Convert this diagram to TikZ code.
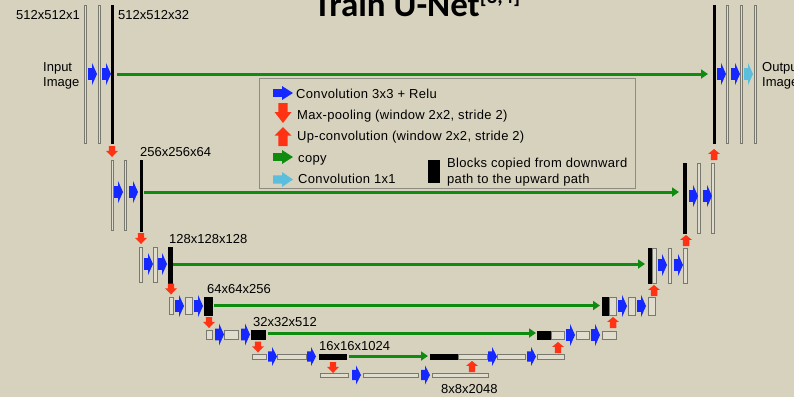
\documentclass[tikz,border=0pt]{standalone}
\usepackage{fontspec}
\setmainfont{Liberation Sans}
\newfontfamily\titlefont{Carlito}
\newfontfamily\legfont[LetterSpace=2.5]{Liberation Sans}
\usetikzlibrary{arrows.meta,calc}
\definecolor{bg}{RGB}{215,210,190}
\definecolor{blkfill}{RGB}{224,221,206}
\definecolor{blkdraw}{RGB}{120,120,110}
\definecolor{convblue}{RGB}{20,40,255}
\definecolor{poolred}{RGB}{255,50,20}
\definecolor{copygreen}{RGB}{15,140,15}
\definecolor{convcyan}{RGB}{90,190,220}
\definecolor{legdraw}{RGB}{140,140,130}
\newcommand\blk[6]{\node[#2, anchor=north west, minimum width={(#5-#3)*1pt}, minimum height={(#6-#4)*1pt}] (#1) at (#3,#4) {};}
\tikzset{
  gblk/.style={draw=blkdraw, fill=blkfill, line width=0.8pt, inner sep=0pt, outer sep=0pt},
  kblk/.style={draw=black, fill=black, line width=0.5pt, inner sep=0pt, outer sep=0pt},
  lbl/.style={anchor=base west, inner sep=0pt, font=\fontsize{13}{13}\selectfont},
  leg/.style={anchor=base west, inner sep=0pt, font=\legfont\fontsize{13}{13}\selectfont},
  copyarr/.style={draw=copygreen, line width=3pt, -{Triangle[length=7pt,width=9pt]}},
  rarr/.pic={\fill[#1] (0,-0.27) -- (0.45,-0.27) -- (0.45,-0.5) -- (1,0) -- (0.45,0.5) -- (0.45,0.27) -- (0,0.27) -- cycle;},
  darr/.pic={\fill[#1] (-0.27,0) -- (0.27,0) -- (0.27,0.45) -- (0.5,0.45) -- (0,1) -- (-0.5,0.45) -- (-0.27,0.45) -- cycle;},
  uarr/.pic={\fill[#1] (-0.27,0) -- (0.27,0) -- (0.27,-0.55) -- (0.5,-0.55) -- (0,-1) -- (-0.5,-0.55) -- (-0.27,-0.55) -- cycle;},
  conv/.style={xscale=9, yscale=22},
  convs/.style={xscale=9, yscale=19},
  pool/.style={xscale=12, yscale=11},
}
\begin{document}
\begin{tikzpicture}[x=1pt, y=-1pt]
\fill[bg] (0,0) rectangle (794,397);
\useasboundingbox (0,0) rectangle (794,397);

% title (cropped at the top)
\node[anchor=base, inner sep=0pt, font=\titlefont\bfseries\fontsize{35}{35}\selectfont] (title) at (417,16)
  {Train U-Net\raisebox{13pt}{\fontsize{21}{21}\selectfont[3,4]}};

% ---------- downward path ----------
\blk{d1a}{gblk}{84}{5}{86}{143}
\blk{d1b}{gblk}{98}{5}{100}{143}
\blk{d1k}{kblk}{111}{5}{113}{143}
\blk{d2a}{gblk}{111}{160}{113}{230}
\blk{d2b}{gblk}{124}{160}{126}{230}
\blk{d2k}{kblk}{140}{160}{142}{231}
\blk{d3a}{gblk}{139}{247}{142}{282}
\blk{d3b}{gblk}{153}{247}{157}{282}
\blk{d3k}{kblk}{168}{247}{172}{283}
\blk{d4a}{gblk}{169}{297}{173}{314}
\blk{d4b}{gblk}{185}{297}{192}{314}
\blk{d4k}{kblk}{204}{297}{212}{315}
\blk{d5a}{gblk}{206}{330}{212}{339}
\blk{d5b}{gblk}{224}{330}{238}{339}
\blk{d5k}{kblk}{251}{330}{265}{339}
\blk{d6a}{gblk}{252}{354}{266}{359}
\blk{d6b}{gblk}{277}{354}{306}{359}
\blk{d6k}{kblk}{319}{354}{346}{359}
\blk{b7a}{gblk}{320}{373}{348}{377}
\blk{b7b}{gblk}{363}{373}{418}{377}
\blk{b7c}{gblk}{432}{373}{488}{377}

% ---------- upward path ----------
\blk{u6k}{kblk}{430}{354}{458}{359}
\blk{u6g}{gblk}{458}{354}{487}{359}
\blk{u6b}{gblk}{497}{354}{525}{359}
\blk{u6c}{gblk}{537}{354}{564}{359}
\blk{u5k}{kblk}{537}{331}{551}{339}
\blk{u5g}{gblk}{551}{331}{564}{339}
\blk{u5b}{gblk}{576}{331}{589}{339}
\blk{u5c}{gblk}{602}{331}{616}{339}
\blk{u4k}{kblk}{602}{297}{609}{315}
\blk{u4g}{gblk}{609}{297}{616}{315}
\blk{u4b}{gblk}{628}{297}{635}{315}
\blk{u4c}{gblk}{648}{297}{655}{315}
\blk{u3k}{kblk}{648}{248}{652}{283}
\blk{u3g}{gblk}{652}{248}{656}{283}
\blk{u3b}{gblk}{668}{248}{671}{283}
\blk{u3c}{gblk}{683}{248}{687}{283}
\blk{u2k}{kblk}{683}{163}{686}{233}
\blk{u2b}{gblk}{697}{163}{700}{233}
\blk{u2c}{gblk}{711}{163}{714}{233}
\blk{u1k}{kblk}{713}{5}{715}{143}
\blk{u1b}{gblk}{726}{5}{728}{143}
\blk{u1c}{gblk}{740}{5}{742}{143}
\blk{u1d}{gblk}{754}{5}{756}{143}

% ---------- copy arrows ----------
\draw[copyarr] ($(d1k.east|-0,74)+(4,0)$) -- ($(u1k.west|-0,74)+(-5,0)$);
\draw[copyarr] ($(d2k.east|-0,192)+(2,0)$) -- ($(u2k.west|-0,192)+(-4,0)$);
\draw[copyarr] ($(d3k.east|-0,264)+(1,0)$) -- ($(u3k.west|-0,264)+(-3,0)$);
\draw[copyarr] ($(d4k.east|-0,305.5)+(2,0)$) -- ($(u4k.west|-0,305.5)+(-2,0)$);
\draw[copyarr] ($(d5k.east|-0,333)+(3,0)$) -- ($(u5k.west|-0,333)+(-1,0)$);
\draw[copyarr] ($(d6k.east|-0,356)+(3,0)$) -- ($(u6k.west|-0,356)+(-2,0)$);

% ---------- convolution arrows ----------
\pic[conv] at (88,74) {rarr=convblue};
\pic[conv] at (102,74) {rarr=convblue};
\pic[conv] at (114,192) {rarr=convblue};
\pic[conv] at (129,192) {rarr=convblue};
\pic[conv] at (144,264) {rarr=convblue};
\pic[conv] at (158,264) {rarr=convblue};
\pic[conv] at (175,306) {rarr=convblue};
\pic[conv] at (194,306) {rarr=convblue};
\pic[conv] at (215,334.5) {rarr=convblue};
\pic[conv] at (241,334.5) {rarr=convblue};
\pic[convs] at (268,356.5) {rarr=convblue};
\pic[convs] at (307,356.5) {rarr=convblue};
\pic[convs] at (352,375) {rarr=convblue};
\pic[convs] at (421,375) {rarr=convblue};
\pic[convs] at (488,356.5) {rarr=convblue};
\pic[convs] at (527,356.5) {rarr=convblue};
\pic[conv] at (566,335) {rarr=convblue};
\pic[conv] at (591,335) {rarr=convblue};
\pic[conv] at (618,306) {rarr=convblue};
\pic[conv] at (637,306) {rarr=convblue};
\pic[conv] at (658,265) {rarr=convblue};
\pic[conv] at (674,265) {rarr=convblue};
\pic[conv] at (689,196) {rarr=convblue};
\pic[conv] at (703,196) {rarr=convblue};
\pic[conv] at (717,74) {rarr=convblue};
\pic[conv] at (731,74) {rarr=convblue};
\pic[conv] at (744,74) {rarr=convcyan};

% ---------- pooling / up-convolution arrows ----------
\pic[pool] at (112,146) {darr=poolred};
\pic[pool] at (141,233) {darr=poolred};
\pic[pool] at (171,283.5) {darr=poolred};
\pic[pool] at (209,317) {darr=poolred};
\pic[pool] at (258,341.5) {darr=poolred};
\pic[pool] at (333,362) {darr=poolred};
\pic[pool] at (472,372) {uarr=poolred};
\pic[pool] at (558,353) {uarr=poolred};
\pic[pool] at (613,328) {uarr=poolred};
\pic[pool] at (654,296) {uarr=poolred};
\pic[pool] at (686,246) {uarr=poolred};
\pic[pool] at (714,160) {uarr=poolred};

% ---------- labels ----------
\node[lbl] (l512a) at (16,19) {512x512x1};
\node[lbl] (l512b) at (118,19) {512x512x32};
\node[lbl] (in1) at (43,71) {Input};
\node[lbl] (in2) at (43,86) {Image};
\node[lbl] (out1) at (762,71) {Output};
\node[lbl] (out2) at (762,86) {Image};
\node[lbl] (l256) at (140,156) {256x256x64};
\node[lbl] (l128) at (169,243) {128x128x128};
\node[lbl] (l64) at (207,293) {64x64x256};
\node[lbl] (l32) at (253,326) {32x32x512};
\node[lbl] (l16) at (319,350) {16x16x1024};
\node[lbl] (l8) at (441,393) {8x8x2048};

% ---------- legend ----------
\node[draw=legdraw, line width=1pt, anchor=north west, minimum width=376pt, minimum height=110pt, inner sep=0pt] (legend) at (259,78) {};
\pic[xscale=20, yscale=14] at (273,93) {rarr=convblue};
\pic[xscale=17, yscale=20] at (283,103) {darr=poolred};
\pic[xscale=17, yscale=19] at (283,146) {uarr=poolred};
\pic[xscale=20, yscale=14] at (273,157) {rarr=copygreen};
\pic[xscale=20, yscale=15] at (273,179.5) {rarr=convcyan};
\node[kblk, anchor=north west, minimum width=11pt, minimum height=22pt] (legblk) at (428,160) {};
\node[leg] (t1) at (296,98) {Convolution 3x3 + Relu};
\node[leg] (t2) at (297,119) {Max-pooling (window 2x2, stride 2)};
\node[leg] (t3) at (297,140) {Up-convolution (window 2x2, stride 2)};
\node[leg] (t4) at (298,162) {copy};
\node[leg] (t5) at (298,183) {Convolution 1x1};
\node[leg] (t6) at (447,167) {Blocks copied from downward};
\node[leg] (t7) at (447,183) {path to the upward path};
\end{tikzpicture}
\end{document}
